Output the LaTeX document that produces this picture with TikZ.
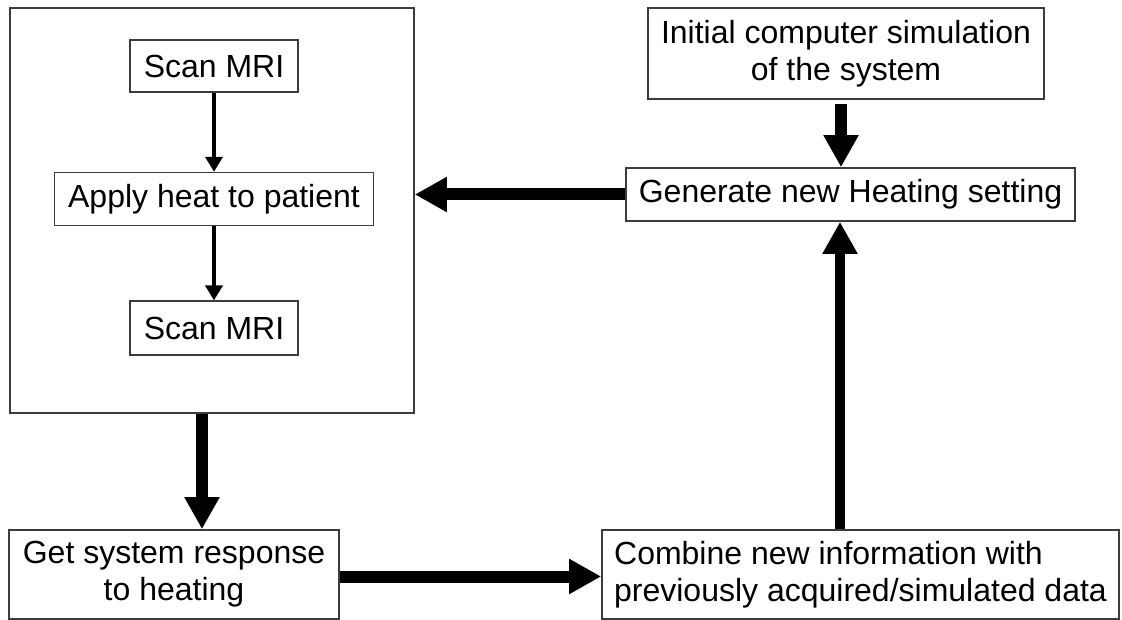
\documentclass[tikz,border=0pt]{standalone}
\usepackage{fontspec}
\setmainfont{Liberation Sans}
\usepackage{tikz}
\usetikzlibrary{positioning, arrows.meta}
\definecolor{boxline}{RGB}{60,60,60}
\tikzset{
  block/.style={
    draw=boxline, line width=1.6pt, inner sep=0pt,
    align=center, font=\fontsize{32}{37}\selectfont
  },
  flow/.style={draw, line width=4pt, -{Triangle[length=15pt, width=17pt]}},
  bigflow/.style={draw, line width=12pt, -{Triangle[length=32pt, width=33pt]}},
}

\begin{document}
\begin{tikzpicture}[x=1pt, y=-1pt]
  \useasboundingbox (0,0) rectangle (1122,620);

  % left loop: scan, heat, scan
  \node[block, minimum width=404pt, minimum height=405pt] (LOOP) at (212,210.5) {};
  \node[block, minimum width=168pt, minimum height=52pt] (SCAN1) at (214,66) {Scan MRI};
  \node[block, minimum width=319pt, minimum height=53pt, below=79pt of SCAN1] (HEAT) {Apply heat to patient};
  \node[block, minimum width=168pt, minimum height=54pt, below=74pt of HEAT] (SCAN2) {Scan MRI};

  % right column
  \node[block, minimum width=396pt, minimum height=91pt] (INIT) at (846,53.5) {Initial computer simulation\\of the system};
  \node[block, minimum width=449pt, minimum height=53pt] (GEN) at (850.5,194.5) {Generate new Heating setting};

  % bottom row
  \node[block, minimum width=330pt, minimum height=89pt] (RESP) at (174,574.5) {Get system response\\to heating};
  \node[block, align=left, minimum width=517pt, minimum height=89pt] (COMB) at (860.5,574.5) {Combine new information with\\previously acquired/simulated data};

  \draw[flow] (SCAN1) -- (HEAT);
  \draw[flow] (HEAT) -- (SCAN2);
  \draw[bigflow, shorten <=4pt] ([xshift=-5pt]INIT.south) -- ([xshift=-5pt]INIT.south |- GEN.north);
  \draw[bigflow] (GEN.west) -- (GEN.west -| LOOP.east);
  \draw[bigflow] ([xshift=-10pt]LOOP.south) -- ([xshift=-10pt]LOOP.south |- RESP.north);
  \draw[bigflow] ([yshift=-2pt]RESP.east) -- ([yshift=-2pt]RESP.east -| COMB.west);
  \draw[bigflow, line width=10pt] ([xshift=-10.5pt]GEN.south |- COMB.north) -- ([xshift=-10.5pt]GEN.south);
\end{tikzpicture}
\end{document}
